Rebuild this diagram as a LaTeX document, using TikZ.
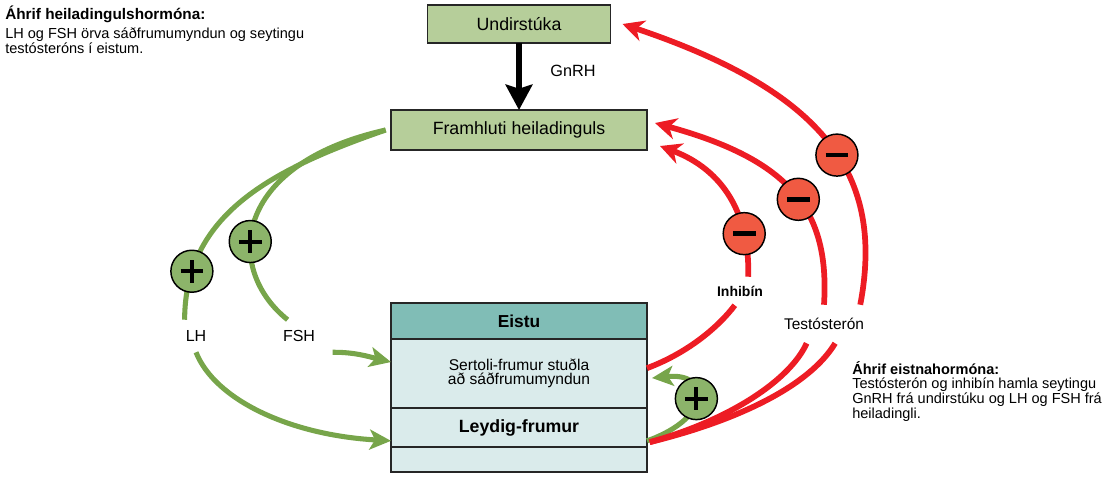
\documentclass[tikz,border=0pt]{standalone}
\usepackage{fontspec}
\setmainfont{Liberation Sans}
\usetikzlibrary{positioning,arrows.meta}
\definecolor{hypgreen}{RGB}{182,206,154}
\definecolor{testteal}{RGB}{128,189,182}
\definecolor{paleteal}{RGB}{218,235,235}
\definecolor{stimgreen}{RGB}{119,165,74}
\definecolor{plusfill}{RGB}{140,180,106}
\definecolor{inhred}{RGB}{237,28,36}
\definecolor{minusfill}{RGB}{240,90,66}

\begin{document}
\begin{tikzpicture}[x=0.75pt,y=-0.75pt,
    organ/.style={draw=black!85,line width=1.3pt,outer sep=0pt,inner sep=0pt,
      minimum width=192pt,font=\fontsize{13.3}{15}\selectfont},
    lbl/.style={inner sep=2pt,minimum height=24pt,font=\fontsize{12}{14}\selectfont},
    note/.style={align=left,inner sep=0pt,anchor=north west,font=\fontsize{10.9}{9.6}\selectfont},
    gline/.style={draw=stimgreen,line width=3.8pt},
    garrow/.style={gline,-{Stealth[length=16pt,width=15pt,inset=4pt]}},
    rline/.style={draw=inhred,line width=4.3pt},
    rarrow/.style={rline,-{Stealth[length=16pt,width=16pt,inset=5pt]}},
    plus/.style={circle,draw=black,line width=1.1pt,fill=plusfill,minimum size=31.5pt,inner sep=0pt,
      path picture={\draw[black,line width=3pt,-]
        ([xshift=-8.5pt]path picture bounding box.center) -- ([xshift=8.5pt]path picture bounding box.center)
        ([yshift=-8.5pt]path picture bounding box.center) -- ([yshift=8.5pt]path picture bounding box.center);}},
    minus/.style={circle,draw=black,line width=1.1pt,fill=minusfill,minimum size=31.5pt,inner sep=0pt,
      path picture={\draw[black,line width=3.5pt,-]
        ([xshift=-8.5pt]path picture bounding box.center) -- ([xshift=8.5pt]path picture bounding box.center);}}]
  \useasboundingbox (0,0) rectangle (1117,476);

  % hypothalamus and pituitary
  \node[organ,fill=hypgreen,minimum width=137.25pt,minimum height=28.5pt] (und) at (519,24) {Undirstúka};
  \node[organ,fill=hypgreen,minimum height=30pt] (fram) at (519,130) {Framhluti heiladinguls};
  \draw[line width=4.5pt,-{Stealth[length=19pt,width=20pt,inset=3pt]}] (und) -- (fram)
    node[pos=0.42,right=18pt,font=\fontsize{12.2}{14}\selectfont] (gnrh) {GnRH};

  % testis
  \node[organ,fill=testteal,minimum height=27pt,font=\bfseries\fontsize{13}{15}\selectfont] (eistu) at (519,321) {Eistu};
  \node[organ,fill=paleteal,minimum height=51.75pt,align=center,font=\fontsize{11.7}{11}\selectfont,
    below=0pt of eistu] (sertoli) {Sertoli-frumur stuðla\\að sáðfrumumyndun};
  \node[organ,fill=paleteal,minimum height=29.25pt,font=\bfseries\fontsize{13.3}{15}\selectfont,
    below=0pt of sertoli] (leydig) {Leydig-frumur};
  \node[organ,fill=paleteal,minimum height=18.75pt,below=0pt of leydig] (rest) {};

  % labels in the gaps
  \node[lbl] (lh) at (196,336) {LH};
  \node[lbl] (fsh) at (299,336) {FSH};
  \node[lbl,minimum height=21pt,font=\bfseries\fontsize{10.5}{12}\selectfont] (inh) at (740,291) {Inhibín};
  \node[lbl,minimum height=28.5pt,font=\fontsize{11.6}{14}\selectfont] (test) at (824,324) {Testósterón};

  % stimulation
  \draw[gline] ([xshift=-4pt]fram.west) .. controls (270,170) and (185,215) .. (lh.125)
    node[plus,pos=0.83] (lhplus) {};
  \draw[gline] ([xshift=-4pt]fram.west) .. controls (230,165) and (225,270) .. (fsh.125)
    node[plus,pos=0.6] (fshplus) {};
  \draw[garrow] (lh.south) .. controls (215,400) and (290,435) .. ([yshift=-10pt]leydig.west);
  \draw[garrow] ([xshift=11pt]fsh.south east) .. controls (355,352) and (370,357) .. ([yshift=8.6pt]sertoli.west);
  \draw[garrow] ([yshift=-10pt]leydig.east) .. controls (712,418) and (712,372) .. ([xshift=3.75pt,yshift=-3.4pt]sertoli.east)
    node[plus,pos=0.5] (fbplus) {};

  % negative feedback
  \draw[rline] ([yshift=4pt]sertoli.east) .. controls (690,352) and (720,325) .. (inh.-110);
  \draw[rline] ([xshift=2pt,yshift=-11pt]leydig.east) .. controls (730,420) and (790,380) .. (test.-132);
  \draw[rline] ([xshift=2pt,yshift=-11pt]leydig.east) .. controls (740,420) and (810,385) .. (test.-60);
  \draw[rarrow] (inh.60) .. controls (750,215) and (724,170) .. ([xshift=9.75pt,yshift=-12pt]fram.east)
    node[minus,pos=0.25] (inhminus) {};
  \draw[rarrow] (test.north) .. controls (830,210) and (790,160) .. ([xshift=6pt,yshift=5.25pt]fram.east)
    node[minus,pos=0.46] (framminus) {};
  \draw[rarrow] (test.28) .. controls (885,175) and (825,92) .. ([xshift=9pt]und.east)
    node[minus,pos=0.45] (undminus) {};

  % notes
  \node[note] (pitnote) at (5,6) {{\bfseries\fontsize{11.5}{12}\selectfont Áhrif heiladingulshormóna:}\\[2.7pt]
    LH og FSH örva sáðfrumumyndun og seytingu\\testósteróns í eistum.};
  \node[note] (testnote) at (852,361) {{\bfseries Áhrif eistnahormóna:}\\[1pt]
    Testósterón og inhibín hamla seytingu\\GnRH frá undirstúku og LH og FSH frá\\heiladingli.};
\end{tikzpicture}
\end{document}
